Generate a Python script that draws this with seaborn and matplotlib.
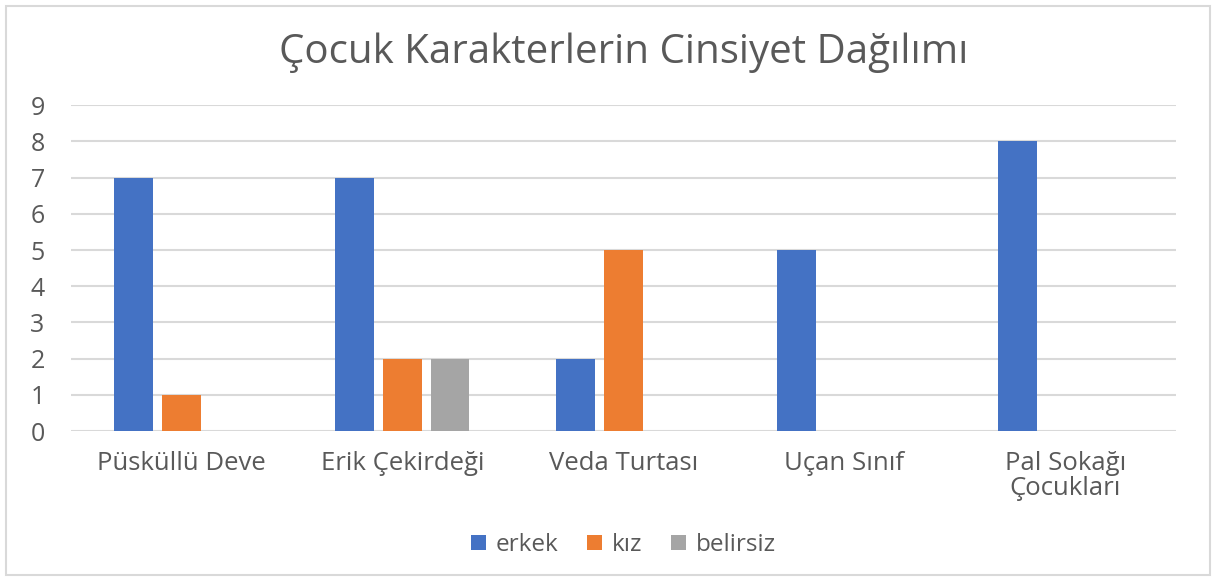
import pandas as pd
import matplotlib.pyplot as plt
import seaborn as sns
from matplotlib.patches import Rectangle

# Data
books = ['Püsküllü Deve', 'Erik Çekirdeği', 'Veda Turtası', 'Uçan Sınıf', 'Pal Sokağı\nÇocukları']
erkek = [7, 7, 2, 5, 8]
kiz = [1, 2, 5, 0, 0]
belirsiz = [0, 2, 0, 0, 0]

rows = []
for name, vals in [('erkek', erkek), ('kız', kiz), ('belirsiz', belirsiz)]:
    for b, v in zip(books, vals):
        rows.append({'Kitap': b, 'Cinsiyet': name, 'Sayı': v})
df = pd.DataFrame(rows)

sns.set_theme(style='white')
plt.rcParams['font.family'] = ['Open Sans', 'DejaVu Sans']
text_color = '#595959'

fig = plt.figure(figsize=(12.16, 5.81), dpi=100)
ax = fig.add_axes([0.0584, 0.258, 0.9086, 0.561])

palette = {'erkek': '#4472C4', 'kız': '#ED7D31', 'belirsiz': '#A5A5A5'}
sns.barplot(data=df, x='Kitap', y='Sayı', hue='Cinsiyet', palette=palette,
            width=0.65, gap=0.2, saturation=1, ax=ax, zorder=3, legend=True,
            linewidth=0)

ax.set_ylim(0, 9)
ax.set_yticks(range(0, 10))
ax.set_xlim(-0.5, len(books) - 0.5)
ax.grid(axis='y', color='#d9d9d9', linewidth=1.5, zorder=0)
ax.set_axisbelow(True)
sns.despine(ax=ax, left=True, bottom=True)
ax.set_xlabel('')
ax.set_ylabel('')
ax.tick_params(axis='x', length=0, pad=14, labelsize=18.5, labelcolor=text_color)
ax.tick_params(axis='y', length=0, pad=19, labelsize=18, labelcolor=text_color)
for lbl in ax.get_xticklabels():
    lbl.set_linespacing(1.0)

ax.set_title('Çocuk Karakterlerin Cinsiyet Dağılımı', fontsize=29, color=text_color, pad=30)

leg = ax.legend(loc='center', bbox_to_anchor=(0.5, -0.35), ncol=3, frameon=False,
                fontsize=17.5, handlelength=0.6, handleheight=0.6, handletextpad=0.4,
                columnspacing=1.2)
for t in leg.get_texts():
    t.set_color(text_color)

fig.patches.append(Rectangle((0.005, 0.01), 0.99, 0.98, transform=fig.transFigure,
                             fill=False, edgecolor='#d9d9d9', linewidth=1.5))

plt.savefig('out.png', dpi=100)
